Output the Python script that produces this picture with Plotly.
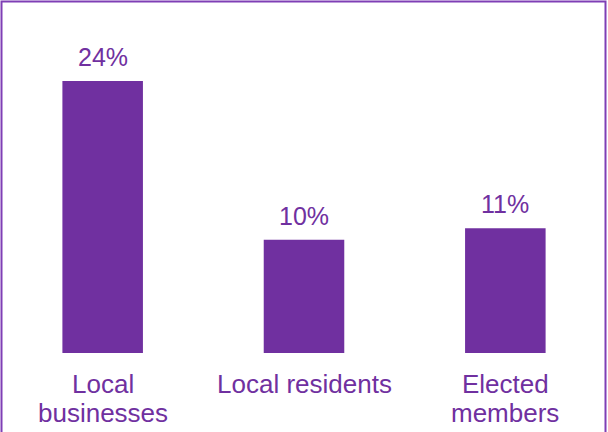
import plotly.graph_objects as go

categories = ["Local businesses", "Local residents", "Elected members"]
category_lines = [["Local", "businesses"], ["Local residents"], ["Elected", "members"]]
values = [24, 10, 11]
value_labels = ["24%", "10%", "11%"]

BAR = "#7030A0"
TEXT = "#7030A0"
FRAME = "#7F3FB5"
FONT = "Liberation Sans, Arial, sans-serif"

W, H = 608, 432
ML, MR, MT, MB = 2, 2, 0, 79
plot_w = W - ML - MR
plot_h = H - MT - MB


def px_x(p):
    return (p - ML) / plot_w


def px_y(p):
    return 1 - (p - MT) / plot_h


fig = go.Figure(
    go.Bar(
        x=categories,
        y=values,
        marker=dict(color=BAR, line=dict(width=0)),
        hoverinfo="skip",
    )
)

# Value labels above each bar
for cat, v, lab in zip(categories, values, value_labels):
    fig.add_annotation(
        x=cat, y=v, text=lab, showarrow=False,
        yanchor="bottom", yshift=8,
        font=dict(family=FONT, size=25, color=TEXT),
    )

# Category labels under the bars, one annotation per line for tight leading
LINE_Y = [383.5, 413.2]
for cat, lines in zip(categories, category_lines):
    for i, line in enumerate(lines):
        fig.add_annotation(
            x=cat, xref="x", y=px_y(LINE_Y[i]), yref="paper",
            text=line, showarrow=False, yanchor="middle",
            font=dict(family=FONT, size=26, color=TEXT),
        )

# Frame around the chart
fig.add_shape(
    type="rect", xref="paper", yref="paper",
    x0=px_x(1.5), x1=px_x(605.5), y0=px_y(470), y1=px_y(1.5),
    line=dict(color=FRAME, width=2), fillcolor="rgba(0,0,0,0)",
)

fig.update_layout(
    width=W, height=H,
    margin=dict(l=ML, r=MR, t=MT, b=MB),
    paper_bgcolor="white",
    plot_bgcolor="white",
    bargap=0.6,
    showlegend=False,
    font=dict(family=FONT, color=TEXT),
    xaxis=dict(
        showline=False, showgrid=False, zeroline=False, ticks="",
        showticklabels=False, automargin=False,
    ),
    yaxis=dict(
        visible=False, range=[0, plot_h / (272 / 24)], automargin=False,
    ),
)

fig.write_html("out.html")
